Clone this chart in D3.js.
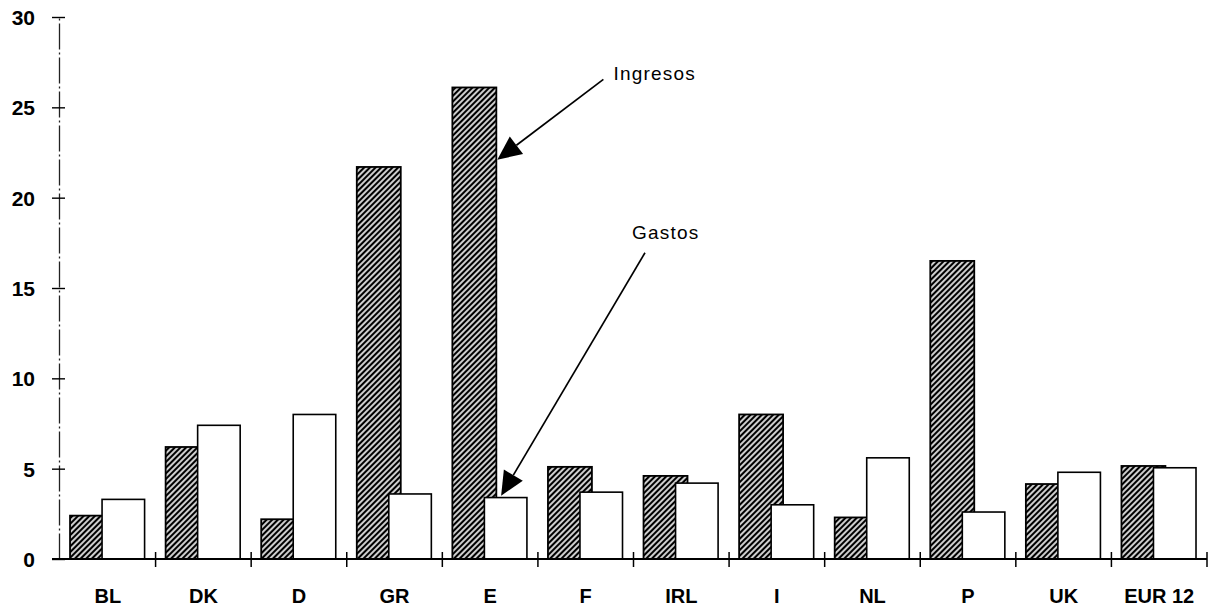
<!DOCTYPE html>
<html>
<head>
<meta charset="utf-8">
<script src="https://cdn.jsdelivr.net/npm/d3@7/dist/d3.min.js"></script>
<style>
  html, body { margin: 0; padding: 0; background: #ffffff; }
  svg { display: block; }
</style>
</head>
<body>
<script>
// ---- data ----
const categories = ["BL", "DK", "D", "GR", "E", "F", "IRL", "I", "NL", "P", "UK", "EUR 12"];
const ingresos   = [2.4, 6.2, 2.2, 21.7, 26.1, 5.1, 4.6, 8.0, 2.3, 16.5, 4.15, 5.15];
const gastos     = [3.3, 7.4, 8.0, 3.6, 3.4, 3.7, 4.2, 3.0, 5.6, 2.6, 4.8, 5.05];
const yTicks     = [0, 5, 10, 15, 20, 25, 30];
const annLabels  = ["Ingresos", "Gastos"];
// annotation anchors in data terms: [category, fraction of band, value]
const annText    = [["F", 0.79, 26.5], ["IRL", -0.015, 17.7]];
const annFrom    = [["F", 0.685, 26.55], ["IRL", 0.12, 16.95]];
const annTip     = [["E", 0.575, 22.1], ["E", 0.615, 3.5]];

// ---- layout ----
const W = 1208, H = 609;
const svg = d3.select("body").append("svg").attr("width", W).attr("height", H);

const x = d3.scaleBand().domain(categories).range([60, 1207]).padding(0);
const y = d3.scaleLinear().domain([0, 30]).range([559, 17]);
const bw = x.bandwidth();

// hatch pattern
const defs = svg.append("defs");
const pat = defs.append("pattern")
  .attr("id", "hatch")
  .attr("patternUnits", "userSpaceOnUse")
  .attr("width", 4).attr("height", 10)
  .attr("patternTransform", "rotate(45)");
pat.append("rect").attr("width", 4).attr("height", 10).attr("fill", "#000");
pat.append("rect").attr("x", 1.2).attr("width", 1.6).attr("height", 10).attr("fill", "#fff");

const font = "'Liberation Sans', Arial, Helvetica, sans-serif";

// bars: ingresos (hatched) first, gastos (white) drawn over
svg.append("g").selectAll("rect")
  .data(categories)
  .join("rect")
  .attr("x", (c) => x(c) + bw * 0.105)
  .attr("width", bw * 0.46)
  .attr("y", (c, i) => y(ingresos[i]))
  .attr("height", (c, i) => y(0) - y(ingresos[i]))
  .attr("fill", "url(#hatch)")
  .attr("stroke", "#000")
  .attr("stroke-width", 1.8);

svg.append("g").selectAll("rect")
  .data(categories)
  .join("rect")
  .attr("x", (c) => x(c) + bw * 0.44)
  .attr("width", bw * 0.445)
  .attr("y", (c, i) => y(gastos[i]))
  .attr("height", (c, i) => y(0) - y(gastos[i]))
  .attr("fill", "#fff")
  .attr("stroke", "#000")
  .attr("stroke-width", 1.6);

// y axis
const yAxisG = svg.append("g")
  .attr("transform", "translate(59,0)")
  .call(d3.axisLeft(y).tickValues(yTicks).tickSize(7).tickSizeOuter(0));
yAxisG.select(".domain")
  .attr("stroke", "#222").attr("stroke-width", 1.3)
  .attr("stroke-dasharray", "26,3,2,3");
yAxisG.selectAll(".tick line")
  .attr("x1", 6).attr("x2", -7)
  .attr("stroke", "#000").attr("stroke-width", 1.4);
yAxisG.selectAll(".tick text")
  .attr("x", -24)
  .attr("dy", "0.36em")
  .style("font-family", font)
  .style("font-size", "21px")
  .style("font-weight", "bold")
  .attr("fill", "#000");

// x axis
const xAxisG = svg.append("g")
  .attr("transform", `translate(0,${y(0)})`)
  .call(d3.axisBottom(x).tickSize(0).tickSizeOuter(0));
xAxisG.select(".domain").remove();
xAxisG.append("line")
  .attr("x1", 52).attr("x2", x.range()[1])
  .attr("stroke", "#000").attr("stroke-width", 2);
xAxisG.selectAll(".tick text")
  .attr("y", 44).attr("dy", 0)
  .style("font-family", font)
  .style("font-size", "20px")
  .style("font-weight", "bold")
  .attr("fill", "#000");
const bounds = categories.slice(1).map((c) => x(c)).concat([x.range()[1]]);
xAxisG.append("g").selectAll("line")
  .data(bounds)
  .join("line")
  .attr("x1", (d) => d).attr("x2", (d) => d)
  .attr("y1", -7).attr("y2", 8)
  .attr("stroke", "#000").attr("stroke-width", 1.5);

// annotations
const pt = (a) => [x(a[0]) + bw * a[1], y(a[2])];
const ann = svg.append("g");
annLabels.forEach((lab, i) => {
  const [tx, ty] = pt(annText[i]);
  const [fx, fy] = pt(annFrom[i]);
  const [px, py] = pt(annTip[i]);
  const dx = px - fx, dy = py - fy;
  const L = Math.hypot(dx, dy);
  const ux = dx / L, uy = dy / L;
  const len = 24, hw = 11;
  const bx = px - ux * len, by = py - uy * len;
  ann.append("line")
    .attr("x1", fx).attr("y1", fy).attr("x2", bx).attr("y2", by)
    .attr("stroke", "#000").attr("stroke-width", 1.7);
  ann.append("path")
    .attr("d", `M${px},${py}L${bx - uy * hw},${by + ux * hw}L${bx + uy * hw},${by - ux * hw}Z`)
    .attr("fill", "#000");
  ann.append("text")
    .attr("x", tx).attr("y", ty)
    .style("font-family", font)
    .style("font-size", "19px")
    .style("letter-spacing", "1.2px")
    .attr("fill", "#000")
    .text(lab);
});
</script>
</body>
</html>
